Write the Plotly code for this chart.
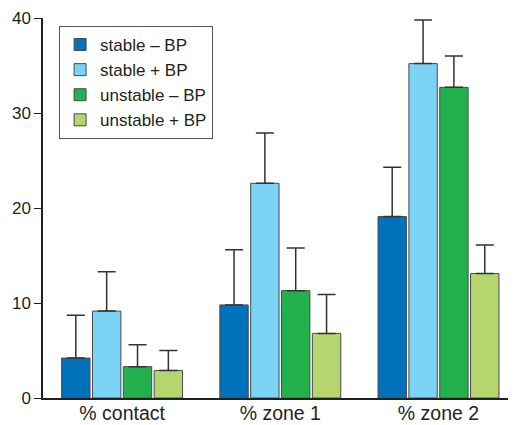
import plotly.graph_objects as go

categories = ["% contact", "% zone 1", "% zone 2"]
series_names = ["stable – BP", "stable + BP", "unstable – BP", "unstable + BP"]
stable_minus = [4.2, 9.8, 19.1]
stable_plus = [9.15, 22.6, 35.2]
unstable_minus = [3.3, 11.3, 32.7]
unstable_plus = [2.9, 6.8, 13.1]
err_stable_minus = [4.5, 5.8, 5.2]
err_stable_plus = [4.15, 5.3, 4.6]
err_unstable_minus = [2.3, 4.5, 3.3]
err_unstable_plus = [2.1, 4.1, 3.0]
y_ticks = [0, 10, 20, 30, 40]

values = [stable_minus, stable_plus, unstable_minus, unstable_plus]
errors = [err_stable_minus, err_stable_plus, err_unstable_minus, err_unstable_plus]
colors = ["#0071BB", "#7BD3F5", "#23B14D", "#B5D56F"]

fig = go.Figure()
for i, (name, vals, errs, col) in enumerate(zip(series_names, values, errors, colors)):
    fig.add_trace(go.Bar(
        x=categories, y=vals, name=name, legendgroup=f"g{i}",
        marker=dict(color=col, line=dict(color="#4a4a4a", width=1)),
        error_y=dict(type="data", array=errs, arrayminus=[0] * len(errs), symmetric=False,
                     color="#333333", thickness=1.5, width=9),
    ))

# page body has an 8px margin, so the figure is shrunk by 8px and margins shifted
fig.update_layout(
    width=508, height=417,
    margin=dict(l=35, r=0, t=10, b=27),
    paper_bgcolor="white", plot_bgcolor="white",
    barmode="group", bargap=0.22, bargroupgap=0.08,
    font=dict(family="Liberation Sans, Arial, sans-serif", color="#231F20", size=17),
    showlegend=True,
    legend=dict(x=0.034, y=0.979, xanchor="left", yanchor="top",
                bordercolor="#555555", borderwidth=1, bgcolor="white",
                font=dict(size=17), tracegroupgap=3, itemwidth=30,
                traceorder="normal"),
    xaxis=dict(range=[-0.5, 2.49], showline=True, linecolor="#231F20", linewidth=1.5,
               ticks="", showgrid=False, tickfont=dict(size=19.5), fixedrange=True,
               automargin=False, ticklabelstandoff=-3),
    yaxis=dict(range=[0, 40], tickvals=y_ticks, showline=True, linecolor="#231F20",
               linewidth=1.5, ticks="outside", ticklen=7, tickcolor="#231F20",
               showgrid=False, zeroline=False, tickfont=dict(size=17), automargin=False),
)

fig.write_html("out.html")
